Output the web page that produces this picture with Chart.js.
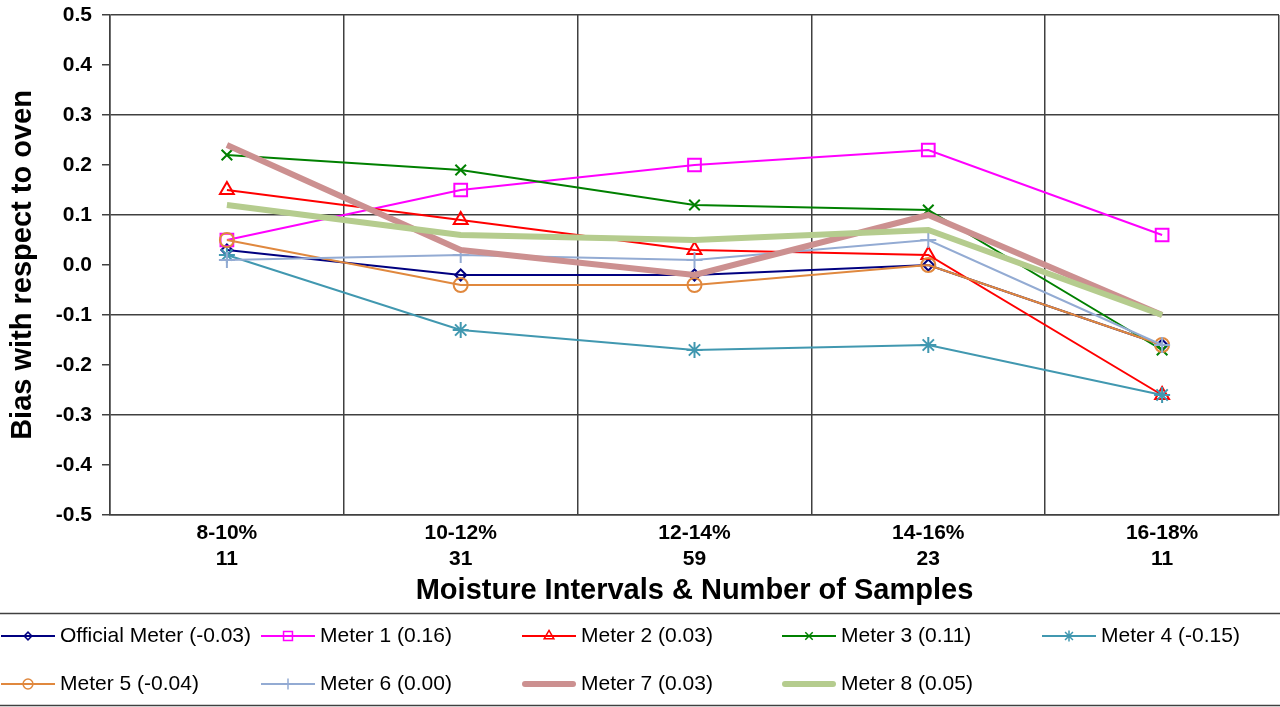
<!DOCTYPE html>
<html>
<head>
<meta charset="utf-8">
<script src="https://cdn.jsdelivr.net/npm/chart.js@4/dist/chart.umd.min.js"></script>
<style>
html,body{margin:0;padding:0;background:#fff;}
#wrap{width:1280px;height:707px;}
</style>
</head>
<body>
<div id="wrap"><canvas id="c" width="1280" height="707"></canvas></div>
<script>
const categories = [['8-10%','11'],['10-12%','31'],['12-14%','59'],['14-16%','23'],['16-18%','11']];
const seriesNames = ['Official Meter (-0.03)','Meter 1 (0.16)','Meter 2 (0.03)','Meter 3 (0.11)','Meter 4 (-0.15)','Meter 5 (-0.04)','Meter 6 (0.00)','Meter 7 (0.03)','Meter 8 (0.05)'];
const officialMeter = [0.03, -0.02, -0.02, 0.00, -0.16];
const meter1 = [0.05, 0.15, 0.20, 0.23, 0.06];
const meter2 = [0.15, 0.09, 0.03, 0.02, -0.26];
const meter3 = [0.22, 0.19, 0.12, 0.11, -0.17];
const meter4 = [0.02, -0.13, -0.17, -0.16, -0.26];
const meter5 = [0.05, -0.04, -0.04, 0.00, -0.16];
const meter6 = [0.01, 0.02, 0.01, 0.05, -0.16];
const meter7 = [0.24, 0.03, -0.02, 0.10, -0.10];
const meter8 = [0.12, 0.06, 0.05, 0.07, -0.10];
const yTickMin = -0.5, yTickMax = 0.5, yTickStep = 0.1;
const xTitle = 'Moisture Intervals & Number of Samples';
const yTitle = 'Bias with respect to oven';

const FONT = "'Liberation Sans', Arial, sans-serif";
const GRID = '#404040';

const styles = [
  {color:'#000080', point:'rectRot', r:5.5, w:2},
  {color:'#FF00FF', point:'rect', r:9, w:2},
  {color:'#FF0000', point:'triangle', r:8, w:2},
  {color:'#008000', point:'crossRot', r:7.5, w:2},
  {color:'#4198B0', point:'star', r:8, w:2},
  {color:'#E0883E', point:'circle', r:7, w:2},
  {color:'#93ABD3', point:'cross', r:8, w:2},
  {color:'#CC9090', point:false, r:0, w:6},
  {color:'#B5CC8E', point:false, r:0, w:6}
];
const values = [officialMeter, meter1, meter2, meter3, meter4, meter5, meter6, meter7, meter8];

const datasets = values.map((v, i) => ({
  label: seriesNames[i],
  data: v,
  borderColor: styles[i].color,
  backgroundColor: 'rgba(0,0,0,0)',
  borderWidth: styles[i].w,
  pointStyle: styles[i].point,
  pointRadius: styles[i].r,
  pointHoverRadius: styles[i].r,
  pointBorderColor: styles[i].color,
  pointBackgroundColor: 'rgba(0,0,0,0)',
  pointBorderWidth: 2,
  tension: 0,
  order: -i,
  clip: false
}));

const legendPlugin = {
  id: 'gridLegend',
  afterDraw(chart) {
    const ctx = chart.ctx;
    ctx.save();
    ctx.strokeStyle = GRID;
    ctx.lineWidth = 1.5;
    ctx.beginPath();
    ctx.moveTo(0, 613.5); ctx.lineTo(1280, 613.5);
    ctx.moveTo(0, 705.5); ctx.lineTo(1280, 705.5);
    ctx.stroke();
    const cols = [1, 261, 522, 782, 1042];
    const rows = [636, 684];
    ctx.font = '21px ' + FONT;
    ctx.textBaseline = 'middle';
    ctx.textAlign = 'left';
    chart.data.datasets.forEach((ds, i) => {
      const x = cols[i % 5], y = rows[Math.floor(i / 5)];
      const st = styles[i];
      ctx.strokeStyle = st.color;
      ctx.lineWidth = st.w;
      ctx.lineCap = st.w > 3 ? 'round' : 'butt';
      ctx.beginPath();
      ctx.moveTo(x + (st.w > 3 ? 3 : 0), y);
      ctx.lineTo(x + 54 - (st.w > 3 ? 3 : 0), y);
      ctx.stroke();
      if (st.point && Chart.helpers && Chart.helpers.drawPoint) {
        ctx.fillStyle = 'rgba(0,0,0,0)';
        ctx.strokeStyle = st.color;
        ctx.lineWidth = 1.5;
        Chart.helpers.drawPoint(ctx, {pointStyle: st.point, radius: st.r * 0.7, borderWidth: 1.5, rotation: 0}, x + 27, y);
      }
      ctx.fillStyle = '#000';
      ctx.fillText(ds.label, x + 59, y);
    });
    ctx.restore();
  }
};

new Chart(document.getElementById('c'), {
  type: 'line',
  data: { labels: categories, datasets },
  plugins: [legendPlugin],
  options: {
    responsive: false,
    animation: false,
    events: [],
    layout: { autoPadding: false, padding: { top: 15, right: 1, bottom: 94, left: 0 } },
    plugins: { legend: { display: false }, tooltip: { enabled: false } },
    scales: {
      x: {
        type: 'category',
        offset: true,
        afterFit(s) { s.height = 98; },
        grid: { offset: true, color: GRID, lineWidth: 1.5, drawTicks: false },
        border: { color: GRID, width: 1.5 },
        ticks: { color: '#000', font: { family: FONT, size: 21, weight: 'bold' }, padding: 6, maxRotation: 0, autoSkip: false },
        title: { display: true, text: xTitle, color: '#000', font: { family: FONT, size: 29, weight: 'bold' }, padding: { top: 0, bottom: 5 } }
      },
      y: {
        min: yTickMin, max: yTickMax,
        afterFit(s) { s.width = 110; },
        afterBuildTicks(s) {
          const t = [];
          for (let k = 0; k <= Math.round((yTickMax - yTickMin) / yTickStep); k++) t.push({ value: +(yTickMin + k * yTickStep).toFixed(1) });
          s.ticks = t;
        },
        grid: {
          color: (c) => (c.index % 2 === 0 ? GRID : 'rgba(0,0,0,0)'),
          tickColor: GRID,
          lineWidth: 1.5,
          tickLength: 8
        },
        border: { color: GRID, width: 1.5 },
        ticks: { color: '#000', font: { family: FONT, size: 21, weight: 'bold', lineHeight: 0.4 }, padding: 10, callback: (v) => Number(v).toFixed(1) },
        title: { display: true, text: yTitle, color: '#000', font: { family: FONT, size: 29, weight: 'bold' }, padding: { top: 6, bottom: 0 } }
      }
    }
  }
});
</script>
</body>
</html>
